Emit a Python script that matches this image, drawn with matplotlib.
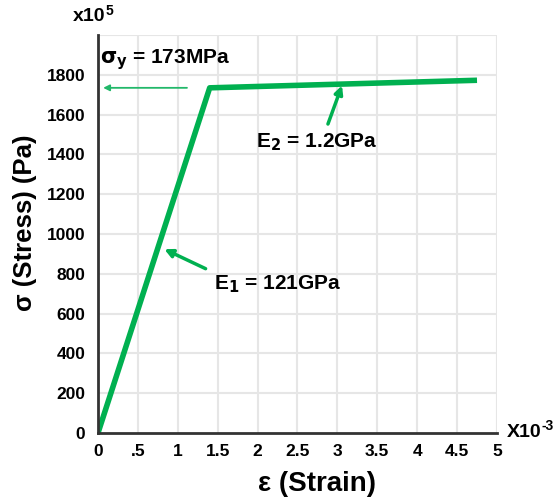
import matplotlib
matplotlib.use("Agg")
import matplotlib.pyplot as plt
import numpy as np

plt.rcParams['font.family'] = ['Liberation Sans', 'DejaVu Sans']

# data
strain = [0, 1.4, 4.75]          # x10^-3
stress = [0, 1735, 1773]         # x10^5 Pa
xticks = [0, 0.5, 1, 1.5, 2, 2.5, 3, 3.5, 4, 4.5, 5]
xtick_labels = ['0', '.5', '1', '1.5', '2', '2.5', '3', '3.5', '4', '4.5', '5']
yticks = [0, 200, 400, 600, 800, 1000, 1200, 1400, 1600, 1800]
ygrid = np.arange(0, 2001, 200)

green = '#00b050'
light_green = '#22b86a'
dark = '#333333'

fig = plt.figure(figsize=(5.58, 4.98), dpi=100)
ax = fig.add_axes([0.1756, 0.1305, 0.715, 0.799])

ax.plot(strain, stress, color=green, lw=4, solid_capstyle='butt', zorder=3)

ax.set_xlim(0, 5)
ax.set_ylim(0, 2000)
for x in xticks[1:]:
    ax.axvline(x, color='#e6e6e6', lw=1.5, zorder=0)
for y in ygrid[1:]:
    ax.axhline(y, color='#e6e6e6', lw=1.5, zorder=0)
ax.set_xticks(xticks)
ax.set_xticklabels(xtick_labels)
ax.set_yticks(yticks)
ax.tick_params(which='both', length=0)
ax.tick_params(axis='x', pad=8, labelsize=12.5)
ax.tick_params(axis='y', pad=9, labelsize=12.5)
for lab in ax.get_xticklabels() + ax.get_yticklabels():
    lab.set_fontweight('bold')

for s in ['top', 'right']:
    ax.spines[s].set_visible(False)
for s in ['left', 'bottom']:
    ax.spines[s].set_color(dark)
    ax.spines[s].set_linewidth(2)
    ax.spines[s].set_zorder(4)

ax.set_ylabel('σ (Stress) (Pa)', fontsize=18.5, fontweight='bold', va='center')
ax.yaxis.set_label_coords(-0.183, 0.528)
ax.set_xlabel('ε (Strain)', fontsize=20, fontweight='bold', va='center')
ax.xaxis.set_label_coords(0.549, -0.127)

fig.text(0.131, 0.966, 'x10', fontsize=14, fontweight='bold', va='center')
fig.text(0.189, 0.977, '5', fontsize=10, fontweight='bold', va='center')
fig.text(0.909, 0.132, 'X10', fontsize=14, fontweight='bold', va='center')
fig.text(0.992, 0.145, '-3', fontsize=10, fontweight='bold', va='center', ha='right')

# annotations
ax.annotate('', xy=(0.03, stress[1]), xytext=(1.15, stress[1]),
            arrowprops=dict(arrowstyle='-|>', color=light_green, lw=1.3, mutation_scale=9))
ax.text(0.03, 1815, r'$\mathbf{\sigma_y}$ = 173MPa', fontsize=15, fontweight='bold',
        ha='left', va='bottom')

ax.annotate('', xy=(3.07, 1760), xytext=(2.87, 1540),
            arrowprops=dict(arrowstyle='-|>', color=green, lw=2.5, mutation_scale=12))
ax.text(1.98, 1460, r'E$_\mathbf{2}$ = 1.2GPa', fontsize=15, fontweight='bold',
        ha='left', va='center')

ax.annotate('', xy=(0.8, 930), xytext=(1.38, 820),
            arrowprops=dict(arrowstyle='-|>', color=green, lw=2.5, mutation_scale=12))
ax.text(1.45, 750, r'E$_\mathbf{1}$ = 121GPa', fontsize=15, fontweight='bold',
        ha='left', va='center')

fig.savefig('out.png', dpi=100)
